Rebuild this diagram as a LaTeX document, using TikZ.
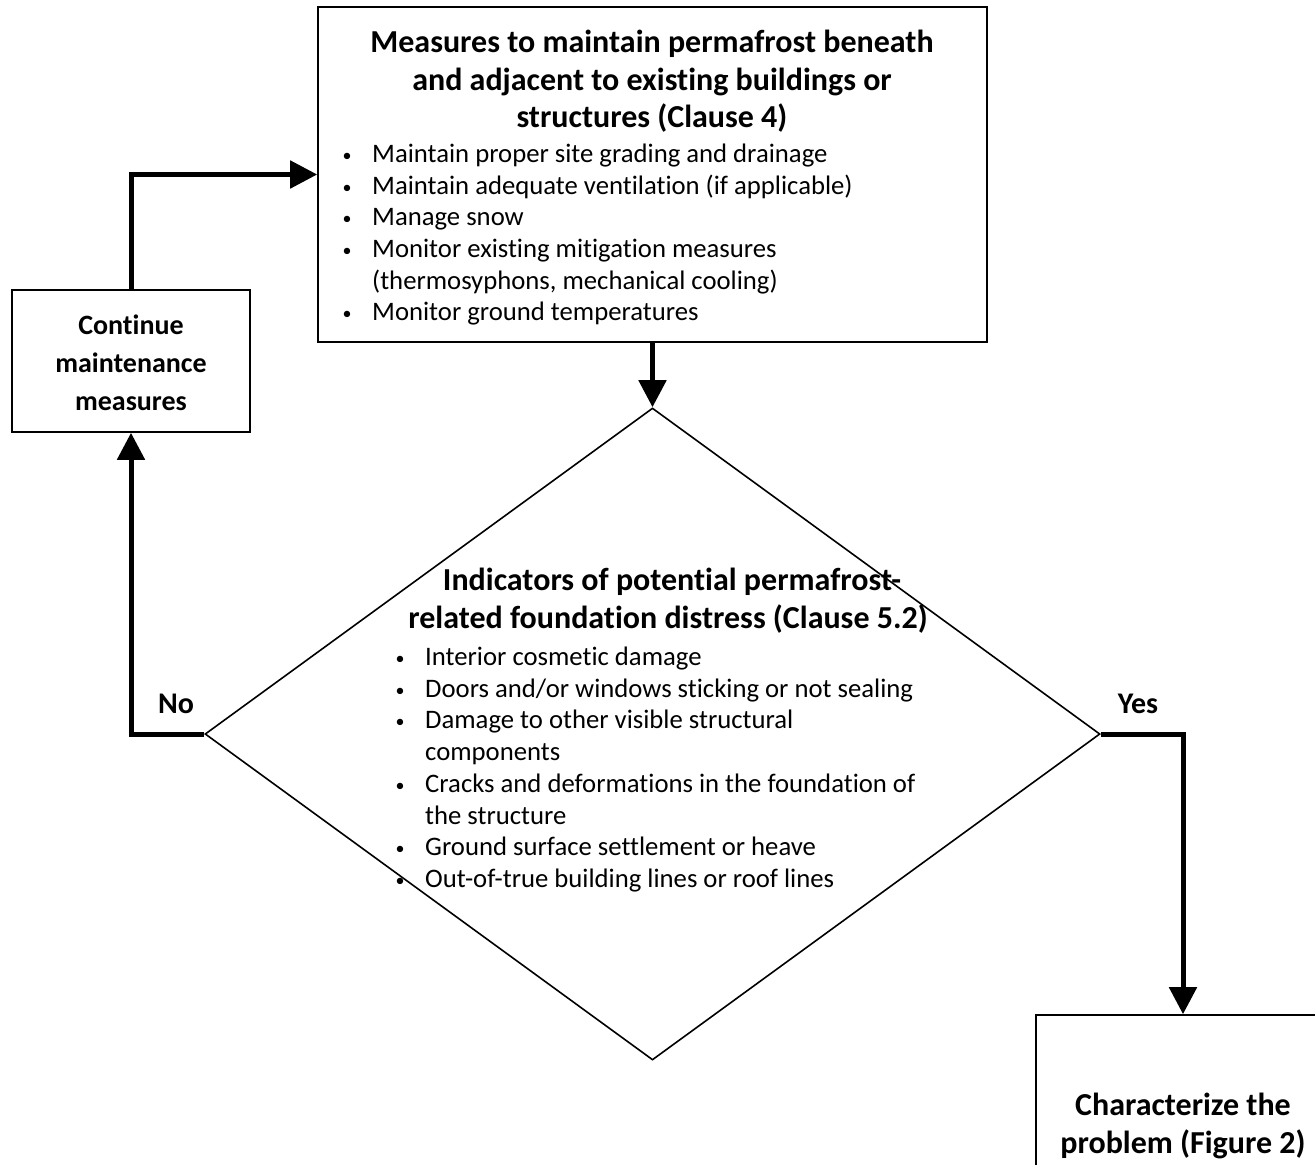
\documentclass[tikz,border=0pt]{standalone}
\usepackage{fontspec}
\setmainfont{Carlito}[RawFeature={-liga}]
\usetikzlibrary{shapes.geometric,arrows.meta}
\begin{document}
\begin{tikzpicture}[x=1pt,y=-1pt,
  box/.style={draw, line width=1.6pt, inner sep=0pt},
  conn/.style={line width=5pt, -{Triangle[length=27pt,width=27pt]}},
  ttl/.style={font=\fontsize{32}{38}\selectfont\bfseries, anchor=base, inner sep=0pt},
  sttl/.style={font=\fontsize{28}{34}\selectfont\bfseries, anchor=base, inner sep=0pt},
  lbl/.style={font=\fontsize{30}{36}\selectfont\bfseries, inner sep=0pt},
  itm/.style={font=\fontsize{26.7}{32}\selectfont, anchor=base west, inner sep=0pt},
  bul/.style={font=\fontsize{18}{20}\selectfont, anchor=base, inner sep=0pt}]
\useasboundingbox (0,0) rectangle (1315,1165);
\fill[white] (0,0) rectangle (1315,1165);

% top box
\node[box, minimum width=669pt, minimum height=335pt] (top) at (652.5,174.5) {};
\node[ttl] (t1) at (652,52.5) {Measures to maintain permafrost beneath};
\node[ttl] (t2) at (652,90.5) {and adjacent to existing buildings or};
\node[ttl] (t3) at (652,127.5) {structures (Clause 4)};
\foreach \y/\txt [count=\i] in {162/{Maintain proper site grading and drainage},
  194/{Maintain adequate ventilation (if applicable)},
  225/{Manage snow},
  257/{Monitor existing mitigation measures},
  289/{(thermosyphons, mechanical cooling)},
  320/{Monitor ground temperatures}}{
  \node[itm] (ti\i) at (372,\y) {\txt};
}
\foreach \y [count=\i] in {162,194,225,257,320}{
  \node[bul] (tb\i) at (347,\y-1) {•};
}

% diamond
\node[box, diamond, minimum width=895pt, minimum height=652pt] (dia) at (652.5,734) {};
\node[ttl] (d1) at (672,590) {Indicators of potential permafrost-};
\node[ttl] (d2) at (668,628) {related foundation distress (Clause 5.2)};
\foreach \y/\txt [count=\i] in {665/{Interior cosmetic damage},
  697/{Doors and/or windows sticking or not sealing},
  728/{Damage to other visible structural},
  760/{components},
  792/{Cracks and deformations in the foundation of},
  824/{the structure},
  855/{Ground surface settlement or heave},
  887/{Out-of-true building lines or roof lines}}{
  \node[itm] (di\i) at (425,\y) {\txt};
}
\foreach \y [count=\i] in {665,697,728,792,855,887}{
  \node[bul] (db\i) at (400,\y-1) {•};
}

% left box
\node[box, minimum width=238pt, minimum height=142pt] (left) at (131,361) {};
\node[sttl] (l1) at (131,334) {Continue};
\node[sttl] (l2) at (131,372) {maintenance};
\node[sttl] (l3) at (131,410) {measures};

% characterize box
\node[box, minimum width=294pt, minimum height=180pt] (char) at (1183,1105) {};
\node[ttl] (c1) at (1183,1115) {Characterize the};
\node[ttl] (c2) at (1183,1153) {problem (Figure 2)};

% connectors
\draw[conn] (top.south) -- (dia.north);
\draw[conn] (dia.west) -| (left.south);
\draw[conn] (left.north) |- (top.west);
\draw[conn] (dia.east) -| (char.north);

\node[lbl] (no) at (176,704) {No};
\node[lbl] (yes) at (1138,704) {Yes};
\end{tikzpicture}
\end{document}
